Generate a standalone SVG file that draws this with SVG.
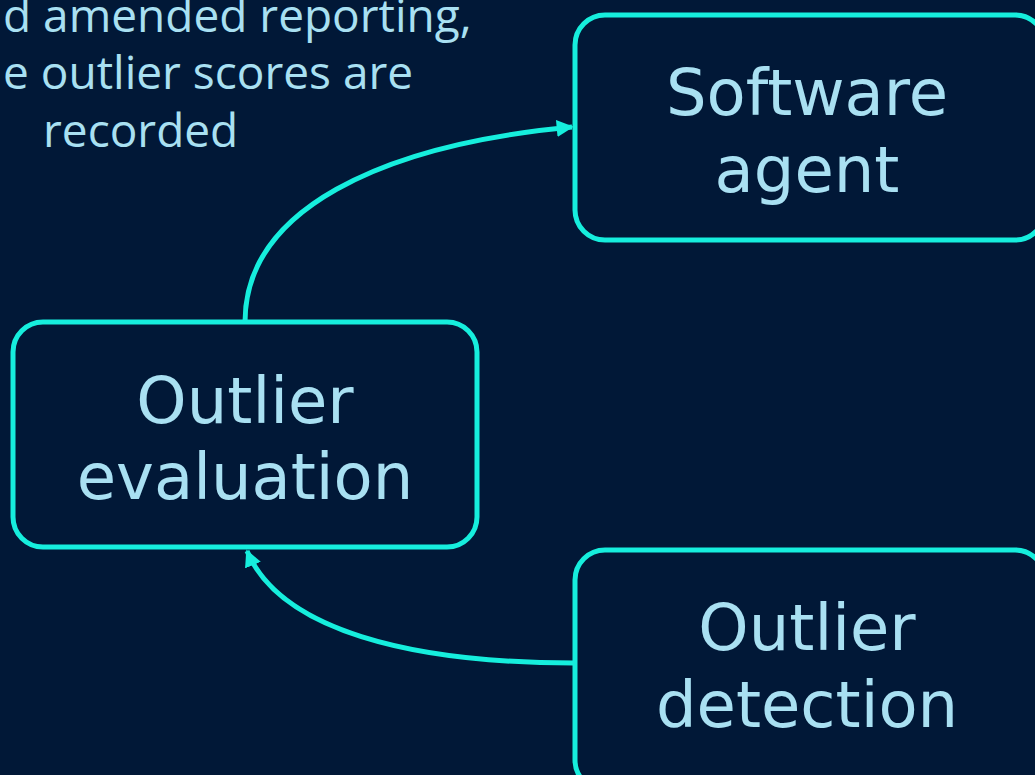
<svg xmlns="http://www.w3.org/2000/svg" width="1035" height="775" viewBox="0 0 1035 775">
  <style>
    .box { fill: #011837; stroke: #16eedd; stroke-width: 5; }
    .label { font-family: "DejaVu Sans", sans-serif; font-size: 64px; fill: #a9e0f2; text-anchor: middle; }
    .note { font-family: "Open Sans", sans-serif; font-size: 46px; fill: #a9e0f2; }
    .edge { fill: none; stroke: #16eedd; stroke-width: 5; }
  </style>
  <defs>
    <marker id="arrow" viewBox="0 0 10 10" refX="9" refY="5" markerWidth="3.4" markerHeight="3.4" orient="auto" markerUnits="strokeWidth">
      <path d="M0,0 L10,5 L0,10 z" fill="#16eedd"/>
    </marker>
  </defs>
  <rect width="1035" height="775" fill="#011837"/>
  <g id="note">
    <text class="note" x="3" y="32">d amended reporting,</text>
    <text class="note" x="3" y="89">e outlier scores are</text>
    <text class="note" x="43" y="147">recorded</text>
  </g>
  <g id="connectors">
    <path class="edge" d="M245,322 C245,210 380,145 572,127" marker-end="url(#arrow)"/>
    <path class="edge" d="M574,663 C410,663 280,630 247,551" marker-end="url(#arrow)"/>
  </g>
  <g id="software-agent">
    <rect class="box" x="575" y="15" width="470" height="225" rx="30"/>
    <text class="label" x="807" y="115">Software</text>
    <text class="label" x="807" y="192">agent</text>
  </g>
  <g id="outlier-evaluation">
    <rect class="box" x="13" y="322" width="464" height="225" rx="30"/>
    <text class="label" x="245" y="423">Outlier</text>
    <text class="label" x="245" y="499">evaluation</text>
  </g>
  <g id="outlier-detection">
    <rect class="box" x="575" y="550" width="470" height="240" rx="30"/>
    <text class="label" x="807" y="650">Outlier</text>
    <text class="label" x="807" y="727">detection</text>
  </g>
</svg>
